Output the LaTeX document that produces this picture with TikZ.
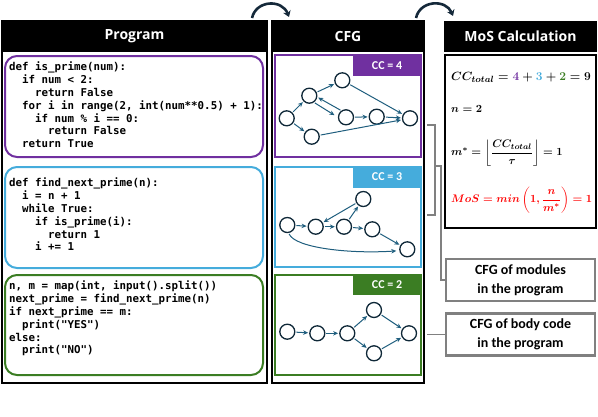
\documentclass[tikz,border=0pt]{standalone}
\usepackage{amsmath}
\usepackage{fontspec}
\setmonofont{DejaVu Sans Mono}
\newfontfamily\hdfont{Open Sans}
\newfontfamily\lblfont{Carlito}
\usetikzlibrary{arrows.meta}
\definecolor{cpurple}{HTML}{7030A0}
\definecolor{cblue}{HTML}{45ACDC}
\definecolor{cgreen}{HTML}{3B7D23}
\definecolor{carrow}{HTML}{1F5E7E}
\definecolor{cnode}{HTML}{0F2838}
\definecolor{cgray}{HTML}{808080}
\definecolor{ccurve}{HTML}{15293A}
\newcommand\mosfa{\mbox{\boldmath$CC_{total} = \textcolor{cpurple}{4} + \textcolor{cblue}{3} + \textcolor{cgreen}{2} = 9$}}
\newcommand\mosfb{\mbox{\boldmath$n = 2$}}
\newcommand\mosfc{\mbox{\boldmath$m^{*} = \left\lfloor \dfrac{CC_{total}}{\tau} \right\rfloor = 1$}}
\newcommand\mosfd{\mbox{\boldmath$MoS = min\left(1, \dfrac{n}{m^{*}}\right) = 1$}}
\tikzset{
  panel/.style={draw=black, line width=2pt},
  hdr/.style={fill=black, text=white, inner sep=0pt, font=\hdfont\bfseries\fontsize{14}{16}\selectfont},
  codebox/.style={rounded corners=12pt, line width=2pt},
  cfgbox/.style={line width=2pt},
  tab/.style={text=white, inner sep=0pt, minimum width=69pt, minimum height=21pt, font=\lblfont\bfseries\fontsize{12}{13}\selectfont},
  code/.style={anchor=north west, inner sep=0pt, align=left, font=\ttfamily\bfseries\fontsize{10.8}{12.8}\selectfont},
  cn/.style={circle, draw=cnode, line width=1.3pt, minimum size=15pt, inner sep=0pt},
  edge/.style={draw=carrow, line width=1pt, -{Stealth[length=5pt,width=4.5pt]}, shorten >=1pt, shorten <=1pt},
  conn/.style={draw=cgray, line width=1.2pt},
  lbl/.style={draw=cgray, line width=2.5pt, minimum width=149pt, minimum height=42pt, inner sep=0pt, align=center, font=\lblfont\bfseries\fontsize{14}{19}\selectfont},
  fml/.style={anchor=west, inner sep=0pt},
  curvearrow/.style={draw=ccurve, line width=2.6pt, -{Stealth[length=6pt,width=8pt]}}
}
\begin{document}
\begin{tikzpicture}[x=1pt,y=-1pt]
\useasboundingbox (0,0) rectangle (598,416);

% ---------- curved arrows at top
\coordinate (a1s) at (252,18);
\coordinate (a1e) at (289,17);
\coordinate (a2s) at (416,18);
\coordinate (a2e) at (453,16);
\draw[curvearrow] (a1s) .. controls (256,0) and (282,-1) .. (a1e);
\draw[curvearrow] (a2s) .. controls (420,0) and (446,-1) .. (a2e);

% ---------- Program panel
\draw[panel] (2,21) rectangle (267,383);
\node[hdr, minimum width=265pt, minimum height=31pt] (ph) at (134.5,36.5) {Program};
\draw[codebox, draw=cpurple] (5,56) rectangle (263,157);
\draw[codebox, draw=cblue] (5,167) rectangle (263,268);
\draw[codebox, draw=cgreen] (5,275) rectangle (263,375);

\node[code] (c1) at (9,62) {def is\_prime(num):\\
\ \ if num < 2:\\
\ \ \ \ return False\\
\ \ for i in range(2, int(num**0.5) + 1):\\
\ \ \ \ if num \% i == 0:\\
\ \ \ \ \ \ return False\\
\ \ return True};
\node[code] (c2) at (9,178) {def find\_next\_prime(n):\\
\ \ i = n + 1\\
\ \ while True:\\
\ \ \ \ if is\_prime(i):\\
\ \ \ \ \ \ return 1\\
\ \ \ \ i += 1};
\node[code] (c3) at (9,281) {n, m = map(int, input().split())\\
next\_prime = find\_next\_prime(n)\\
if next\_prime == m:\\
\ \ print("YES")\\
else:\\
\ \ print("NO")};

% ---------- CFG panel
\draw[panel] (272,21) rectangle (424,383);
\node[hdr, minimum width=152pt, minimum height=31pt] (ch) at (348,36.5) {CFG};
\draw[cfgbox, draw=cpurple] (275,55) rectangle (421,157);
\draw[cfgbox, draw=cblue] (275,167) rectangle (421,267);
\draw[cfgbox, draw=cgreen] (275,275) rectangle (421,375);
\node[tab, fill=cpurple] (t1) at (387,65.5) {CC = 4};
\node[tab, fill=cblue] (t2) at (387,177) {CC = 3};
\node[tab, fill=cgreen] (t3) at (387,284.5) {CC = 2};

% purple graph
\node[cn] (n1) at (286.7,118.3) {};
\node[cn] (n2) at (309.3,95.7) {};
\node[cn] (n3) at (342.3,80.3) {};
\node[cn] (n4) at (346,117.3) {};
\node[cn] (n5) at (376.7,116.7) {};
\node[cn] (n6) at (410,118.3) {};
\node[cn] (n7) at (311.7,136.7) {};
\draw[edge] (n1) -- (n2);
\draw[edge] (n2) -- (n3);
\draw[edge] (n3) -- (n6);
\draw[edge, shorten >=4pt] (n2.-55) -- (n4.180);
\draw[edge] (n4.125) -- (n2.-10);
\draw[edge] (n4) -- (n5);
\draw[edge] (n5) -- (n6);
\draw[edge] (n1) -- (n7);
\draw[edge] (n7) -- (n6);

% blue graph
\node[cn] (m1) at (287.3,225) {};
\node[cn] (m2) at (315.7,226.7) {};
\node[cn] (m3) at (344,226.7) {};
\node[cn] (m4) at (363.3,199) {};
\node[cn] (m5) at (372.3,229.3) {};
\node[cn] (m6) at (407.3,249.3) {};
\draw[edge] (m1) -- (m2);
\draw[edge] (m2) -- (m3);
\draw[edge] (m3) -- (m4);
\draw[edge] (m4) -- (m2);
\draw[edge] (m3) -- (m5);
\draw[edge] (m5) -- (m6);
\draw[edge, shorten >=3pt] (m1.-80) .. controls (295,248) and (350,254) .. (m6.190);

% green graph
\node[cn] (g1) at (287.3,331.7) {};
\node[cn] (g2) at (317.3,333.3) {};
\node[cn] (g3) at (347.3,333.3) {};
\node[cn] (g4) at (374,310) {};
\node[cn] (g5) at (374,353.3) {};
\node[cn] (g6) at (409,333.3) {};
\draw[edge] (g1) -- (g2);
\draw[edge] (g2) -- (g3);
\draw[edge] (g3) -- (g4);
\draw[edge] (g3) -- (g5);
\draw[edge] (g4) -- (g6);
\draw[edge] (g5) -- (g6);

% ---------- MoS panel
\node[hdr, minimum width=153pt, minimum height=31pt] (mh) at (520.5,36.5) {MoS Calculation};
\draw[panel] (445,55) rectangle (596,228);
\node[fml, font=\fontsize{12.4}{15}\selectfont] (f1) at (451,77) {\mosfa};
\node[fml, font=\fontsize{11}{13}\selectfont] (f2) at (451,109) {\mosfb};
\node[fml, font=\fontsize{10.8}{13}\selectfont] (f3) at (451,153) {\mosfc};
\node[fml, font=\fontsize{10.8}{13}\selectfont, text=red] (f4) at (451,200) {\mosfd};

% ---------- labels and connectors
\node[lbl] (lab1) at (520.5,280) {CFG of modules\\in the program};
\node[lbl] (lab2) at (520.5,334.5) {CFG of body code\\in the program};
\coordinate (bt) at (427,125);
\coordinate (bb) at (427,215);
\coordinate (bm) at (435,166);
\coordinate (gm) at (427,334.5);
\draw[conn] (bt) -- (435,125) -- (435,215) -- (bb);
\draw[conn] (bm) -- (441,166) |- (lab1.west);
\draw[conn] (gm) -- (lab2.west);
\end{tikzpicture}
\end{document}
